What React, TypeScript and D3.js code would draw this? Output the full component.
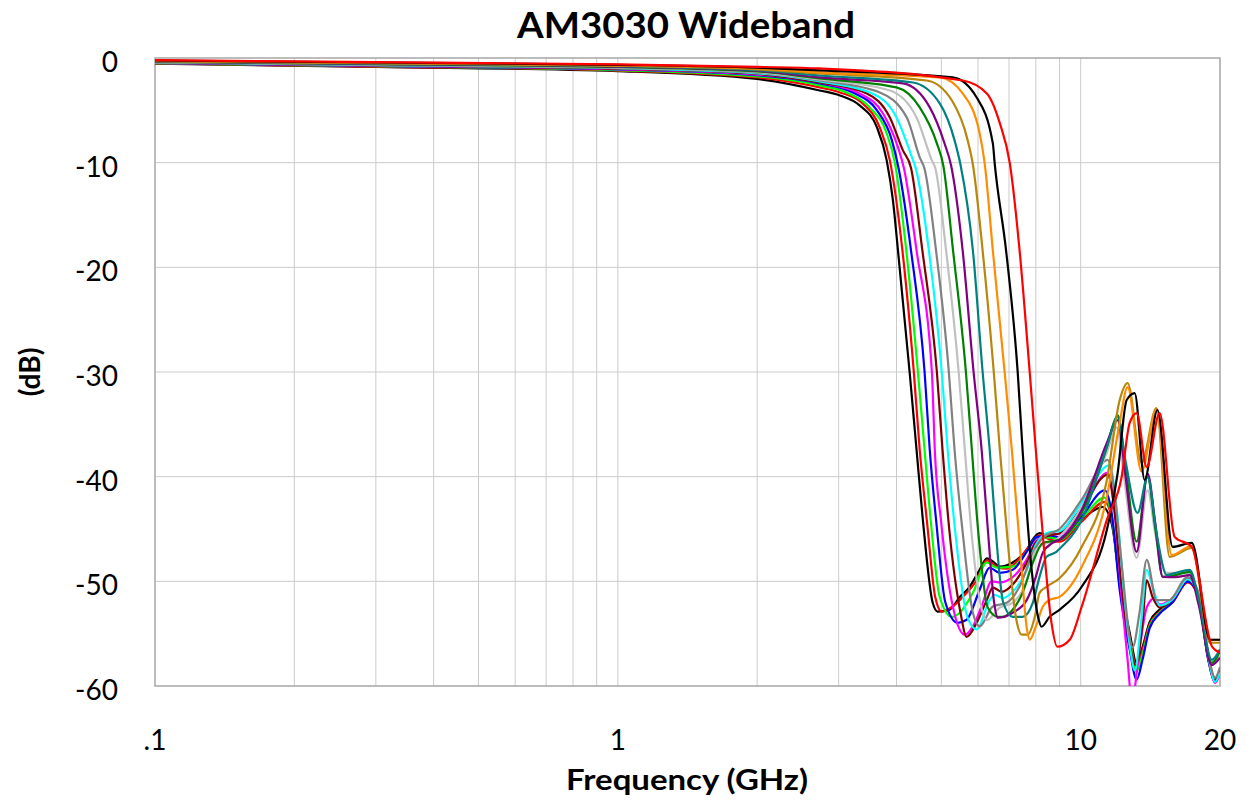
import * as d3 from 'd3'

// each trace: [frequency GHz, response dB]
const trace01: [number, number][] = [
  [0.1, -0.55], [0.3, -0.85], [1, -1.25], [2, -2.0], [2.73, -3.1], [3.02, -3.58], [3.33, -4.53], [3.63, -6.63],
  [3.81, -9.78], [3.93, -13.6], [4.03, -18.4], [4.27, -30], [4.42, -37.45], [4.56, -44.1], [4.79, -52.05],
  [4.91, -52.9], [5.21, -52.7], [5.48, -51.5], [5.76, -50.5], [6.05, -48.9], [6.27, -47.8], [6.46, -48.1],
  [6.69, -48.6], [7.13, -48.2], [7.65, -47.0], [7.88, -46.0], [8.15, -45.4], [8.57, -45.8], [9.0, -46.0],
  [10.05, -44.1], [11.16, -42.9], [11.67, -44.5], [12.14, -49.9], [12.76, -54.9], [13.21, -57.8], [13.6, -56.3],
  [14.09, -53.9], [14.81, -52.7], [15.8, -51.8], [17.03, -49.9], [17.91, -51.1], [18.85, -57.2], [19.52, -59.4],
  [20, -58.4],
]
const trace02: [number, number][] = [
  [0.1, -0.52], [0.3, -0.82], [1, -1.2], [2, -1.85], [2.73, -2.81], [3.02, -3.29], [3.38, -4.34], [3.68, -6.63],
  [3.87, -9.78], [4.12, -18.4], [4.36, -30], [4.49, -37.45], [4.66, -44.5], [4.85, -51.5], [5.01, -52.9],
  [5.29, -52.4], [5.56, -51.5], [5.96, -49.9], [6.27, -48.0], [6.59, -48.6], [6.92, -48.8], [7.38, -47.8],
  [7.88, -46.2], [8.15, -45.6], [8.57, -46.0], [9.0, -46.2], [10.05, -44.3], [11.27, -42.4], [11.67, -44.0],
  [12.14, -50.2], [12.76, -55.3], [13.21, -58.2], [13.6, -56.6], [14.09, -54.1], [14.81, -52.9], [15.8, -52.0],
  [17.03, -50.1], [17.91, -51.3], [18.85, -57.4], [19.52, -59.6], [20, -58.6],
]
const trace03: [number, number][] = [
  [0.1, -0.5], [0.3, -0.79], [1, -1.15], [2, -1.75], [2.73, -2.62], [3.12, -3.29], [3.5, -4.72], [3.81, -7.2],
  [3.97, -10.07], [4.2, -18.4], [4.45, -30], [4.6, -37.45], [4.75, -44.5], [4.96, -51.5], [5.27, -53.4],
  [5.48, -53.0], [5.85, -51.1], [6.27, -48.2], [6.59, -48.7], [7.13, -48.6], [7.76, -46.7], [8.0, -45.8],
  [8.57, -45.8], [9.0, -46.0], [10.05, -44.0], [11.27, -42.0], [11.67, -43.8], [12.14, -50.4], [12.76, -55.6],
  [13.21, -58.6], [13.6, -57.0], [14.09, -54.3], [14.81, -53.0], [15.8, -51.9], [17.03, -49.9], [17.91, -51.2],
  [18.85, -57.3], [19.52, -59.5], [20, -58.5],
]
const trace04: [number, number][] = [
  [0.1, -0.48], [0.3, -0.76], [1, -1.1], [2, -1.65], [2.73, -2.43], [3.22, -3.29], [3.63, -5.01], [3.91, -7.87],
  [4.05, -10.73], [4.3, -18.4], [4.6, -30], [4.72, -37.45], [4.88, -44.5], [5.1, -52.0], [5.42, -53.96],
  [5.67, -53.67], [6.05, -50.8], [6.36, -48.7], [6.69, -49.2], [7.13, -48.9], [7.76, -46.7], [8.0, -45.8],
  [8.57, -45.6], [9.0, -45.8], [10.05, -43.8], [11.27, -41.3], [11.67, -43.5], [12.14, -50.8], [12.76, -56.5],
  [13.21, -59.4], [13.6, -57.5], [14.09, -54.5], [14.81, -53.1], [15.8, -52.0], [17.03, -50.0], [17.91, -51.3],
  [18.85, -57.4], [19.52, -59.6], [20, -58.4],
]
const trace05: [number, number][] = [
  [0.1, -0.46], [0.3, -0.73], [1, -1.06], [2, -1.58], [2.73, -2.34], [3.33, -3.39], [3.74, -5.3], [4.03, -8.54],
  [4.15, -10.5], [4.42, -18.4], [4.77, -30], [4.84, -37.45], [5.0, -44.5], [5.3, -52.5], [5.62, -55.1],
  [5.85, -54.3], [6.14, -52.1], [6.42, -50.0], [6.69, -50.1], [7.13, -49.6], [7.65, -47.9], [8.0, -46.2],
  [8.57, -45.5], [9.0, -45.5], [10.05, -43.3], [11.44, -39.6], [11.85, -43.5], [12.26, -51.5], [12.63, -57.5],
  [12.9, -61.5], [13.4, -56.5], [13.89, -52.5], [14.44, -51.6], [14.81, -52.2], [15.8, -51.6], [17.03, -49.7],
  [17.91, -51.0], [18.85, -57.0], [19.52, -59.7], [20, -58.8],
]
const trace06: [number, number][] = [
  [0.1, -0.45], [0.3, -0.71], [1, -1.02], [2, -1.52], [2.73, -2.34], [3.45, -3.39], [3.87, -5.68], [4.13, -8.83],
  [4.3, -10.5], [4.55, -18.4], [4.89, -30], [5.03, -37.45], [5.2, -45.0], [5.5, -53.0], [5.67, -55.3],
  [5.96, -53.96], [6.27, -51.77], [6.46, -50.6], [6.75, -51.0], [7.13, -50.3], [7.65, -48.2], [8.0, -46.3],
  [8.57, -45.6], [9.0, -45.4], [10.05, -43.0], [11.44, -39.8], [11.85, -43.5], [12.26, -50.5], [12.76, -56.0],
  [13.15, -58.0], [13.6, -54.0], [13.89, -49.9], [14.3, -51.5], [14.81, -52.5], [15.8, -51.7], [17.03, -49.8],
  [17.91, -51.1], [18.85, -57.1], [19.52, -59.5], [20, -58.5],
]
const trace07: [number, number][] = [
  [0.1, -0.43], [0.3, -0.68], [1, -0.98], [2, -1.46], [2.73, -2.24], [3.55, -3.39], [4.0, -5.68], [4.32, -9.49],
  [4.4, -10.5], [4.7, -18.4], [5.01, -30], [5.16, -37.45], [5.35, -45.0], [5.7, -53.5], [5.96, -54.6],
  [6.36, -51.8], [6.52, -51.3], [6.79, -51.6], [7.13, -51.0], [7.65, -48.9], [8.0, -46.5], [8.57, -45.3],
  [9.0, -45.2], [10.05, -42.5], [11.55, -38.9], [11.96, -43.0], [12.4, -51.0], [12.8, -56.5], [13.1, -58.5],
  [13.5, -54.0], [13.89, -48.9], [14.3, -50.5], [14.81, -52.3], [15.8, -51.7], [17.03, -49.8], [17.91, -51.1],
  [18.85, -57.1], [19.52, -59.6], [20, -58.7],
]
const trace08: [number, number][] = [
  [0.1, -0.41], [0.3, -0.65], [1, -0.94], [2, -1.4], [2.73, -2.15], [3.68, -3.29], [4.21, -5.68], [4.49, -9.49],
  [4.6, -10.6], [4.87, -18.4], [5.19, -30], [5.34, -37.45], [5.55, -45.0], [5.85, -53.0], [6.05, -54.3],
  [6.46, -52.4], [6.92, -52.05], [7.38, -50.5], [7.88, -47.3], [8.3, -45.8], [9.0, -45.0], [10.05, -42.2],
  [11.44, -38.4], [11.9, -42.5], [12.26, -48.3], [12.95, -56.3], [13.4, -53.0], [13.89, -47.95], [14.58, -51.8],
  [15.5, -51.8], [17.03, -49.6], [17.91, -50.9], [18.85, -56.9], [19.52, -59.2], [20, -58.2],
]
const trace09: [number, number][] = [
  [0.1, -0.39], [0.3, -0.62], [1, -0.9], [2, -1.34], [2.73, -2.05], [3.87, -3.1], [4.42, -5.68], [4.77, -9.78],
  [4.85, -10.5], [5.12, -18.4], [5.45, -30], [5.62, -37.45], [5.8, -45.0], [6.1, -52.5], [6.27, -53.7],
  [6.69, -52.5], [7.13, -52.05], [7.65, -49.9], [8.0, -47.0], [9.0, -45.75], [10.05, -42.9], [11.39, -37.7],
  [11.96, -35.3], [12.4, -40.0], [13.21, -47.76], [13.95, -41.3], [14.5, -45.5], [15.34, -49.19], [17.2, -49.2],
  [18.0, -52.0], [19.2, -57.8], [20, -57.0],
]
const trace10: [number, number][] = [
  [0.1, -0.37], [0.3, -0.59], [1, -0.86], [2, -1.28], [2.73, -1.96], [4.0, -2.81], [4.49, -4.72], [4.89, -8.16],
  [5.05, -10.3], [5.3, -18.4], [5.65, -30], [5.82, -37.45], [6.0, -45.0], [6.3, -52.5], [6.62, -53.39],
  [6.79, -53.39], [7.13, -52.72], [7.49, -51.1], [7.88, -48.23], [8.28, -46.33], [9.0, -46.04], [10.05, -43.46],
  [11.39, -37.17], [11.85, -34.6], [12.02, -34.11], [12.5, -39.0], [13.21, -46.2], [13.95, -40.03], [14.5, -45.0],
  [15.04, -49.57], [16.0, -49.4], [17.2, -49.1], [18.0, -52.0], [19.2, -57.8], [20, -56.6],
]
const trace11: [number, number][] = [
  [0.1, -0.35], [0.3, -0.56], [1, -0.82], [2, -1.22], [2.73, -1.86], [4.13, -2.43], [4.72, -4.72], [5.08, -8.16],
  [5.25, -10.3], [5.56, -18.4], [5.87, -30], [6.11, -37.45], [6.3, -45.0], [6.5, -52.0], [6.62, -53.48],
  [7.13, -53.0], [7.65, -51.77], [8.0, -49.57], [8.28, -47.28], [8.69, -46.33], [9.0, -46.04], [10.05, -43.18],
  [11.39, -36.78], [12.02, -34.59], [12.5, -40.0], [13.21, -47.19], [13.95, -39.7], [14.5, -44.5], [15.04, -49.57],
  [16.0, -49.6], [17.2, -49.4], [18.0, -52.3], [19.2, -58.0], [20, -57.3],
]
const trace12: [number, number][] = [
  [0.1, -0.33], [0.3, -0.53], [1, -0.78], [2, -1.15], [2.73, -1.67], [4.34, -2.34], [4.96, -4.34], [5.34, -7.87],
  [5.5, -10.2], [5.85, -18.4], [6.14, -30], [6.36, -37.45], [6.55, -45.0], [6.8, -52.0], [7.13, -53.39],
  [7.49, -53.39], [7.88, -52.05], [8.15, -49.57], [8.44, -47.66], [8.86, -47.19], [9.0, -46.9], [10.05, -44.13],
  [11.39, -37.17], [12.02, -34.3], [12.5, -38.5], [13.27, -43.46], [13.95, -40.03], [14.6, -45.5], [15.34, -49.4],
  [16.0, -49.2], [17.2, -48.9], [18.0, -51.7], [19.2, -57.5], [20, -56.5],
]
const trace13: [number, number][] = [
  [0.1, -0.3], [0.3, -0.5], [1, -0.74], [2, -1.08], [2.73, -1.48], [4.65, -2.15], [5.27, -4.06], [5.7, -7.87],
  [5.85, -10.2], [6.14, -18.4], [6.49, -30], [6.69, -37.45], [6.95, -46.0], [7.25, -53.5], [7.46, -55.1],
  [7.68, -55.1], [7.96, -53.39], [8.15, -51.1], [8.44, -50.52], [9.0, -49.7], [10.05, -46.71], [11.39, -40.32],
  [12.14, -32.7], [12.63, -31.06], [13.54, -38.7], [14.58, -33.44], [15.57, -47.66], [17.38, -46.8], [19.04, -55.87],
  [20, -55.87],
]
const trace14: [number, number][] = [
  [0.1, -0.27], [0.3, -0.47], [1, -0.7], [2, -1.0], [2.73, -1.38], [4.96, -1.86], [5.56, -3.39], [6.05, -7.2],
  [6.2, -10.0], [6.46, -18.4], [6.85, -30], [7.1, -37.45], [7.4, -47.0], [7.65, -54.5], [7.76, -55.58],
  [8.0, -54.34], [8.28, -52.43], [8.57, -51.77], [9.0, -51.48], [10.05, -48.62], [11.39, -41.94], [12.14, -34.87],
  [12.63, -31.44], [13.54, -39.5], [14.58, -33.6], [15.73, -47.5], [17.38, -46.6], [19.04, -55.6], [20, -55.6],
]
const trace15: [number, number][] = [
  [0.1, -0.24], [0.3, -0.43], [1, -0.65], [2, -0.93], [2.73, -1.19], [5.29, -1.86], [5.96, -3.77], [6.46, -8.16],
  [6.52, -10.07], [6.9, -18.4], [7.31, -30], [7.49, -37.45], [7.8, -48.0], [8.1, -53.5], [8.23, -54.34],
  [8.57, -53.39], [9.0, -52.72], [10.05, -50.52], [11.39, -45.09], [12.02, -39.65], [12.57, -32.68], [13.08, -32.01],
  [13.75, -40.32], [14.65, -33.63], [15.8, -46.71], [17.38, -46.33], [19.04, -55.58], [20, -55.58],
]
const trace16: [number, number][] = [
  [0.1, -0.2], [0.3, -0.4], [1, -0.6], [2, -0.85], [2.73, -1.0], [5.56, -2.15], [6.27, -3.39], [6.69, -6.25],
  [7.03, -10.07], [7.38, -18.4], [7.76, -30], [8.0, -37.45], [8.3, -46.0], [8.65, -54.0], [8.9, -56.25],
  [9.47, -55.58], [10.05, -52.43], [11.39, -44.13], [12.26, -40.03], [12.76, -34.87], [13.21, -33.92],
  [13.89, -39.07], [14.81, -33.92], [15.96, -45.75], [17.38, -46.71], [19.23, -56.25], [20, -56.82],
]

const traces = [
  trace01, trace02, trace03, trace04, trace05, trace06, trace07, trace08,
  trace09, trace10, trace11, trace12, trace13, trace14, trace15, trace16,
]
const traceColors = [
  '#000000', '#ff0000', '#00ff00', '#0000ff', '#ff00ff', '#800000', '#00ffff', '#808080',
  '#c0c0c0', '#008000', '#800080', '#008080', '#b8860b', '#ff8c00', '#000000', '#ff0000',
]

const yTicks = [0, -10, -20, -30, -40, -50, -60]
const xTickValues = [0.1, 1, 10, 20]
const xTickLabels = ['.1', '1', '10', '20']
const xGrid = [0.2, 0.3, 0.4, 0.5, 0.6, 0.7, 0.8, 0.9, 1, 2, 3, 4, 5, 6, 7, 8, 9, 10]

const W = 1249
const H = 800
const left = 155
const right = 1220
const top = 58
const bottom = 686
const font = 'Lato, "DejaVu Sans", sans-serif'

const App = () => {
  const x = d3.scaleLog().domain([0.1, 20]).range([left, right])
  const y = d3.scaleLinear().domain([-60, 0]).range([bottom, top])
  const line = d3
    .line<[number, number]>()
    .x(d => x(d[0]))
    .y(d => y(d[1]))
    .curve(d3.curveMonotoneX)

  return (
    <svg
      width={W}
      height={H}
      style={{ position: 'absolute', left: 0, top: 0, background: '#fff' }}
    >
      <defs>
        <clipPath id='plot'>
          <rect x={left} y={top - 2} width={right - left} height={bottom - top + 2} />
        </clipPath>
      </defs>
      {/* grid */}
      {yTicks.slice(1, -1).map(t => (
        <line key={t} x1={left} x2={right} y1={y(t)} y2={y(t)} stroke='#cccccc' strokeWidth={1} />
      ))}
      {xGrid.map(g => (
        <line key={g} x1={x(g)} x2={x(g)} y1={top} y2={bottom} stroke='#cccccc' strokeWidth={1} />
      ))}
      <rect x={left} y={top} width={right - left} height={bottom - top} fill='none' stroke='#a6a6a6' strokeWidth={1.5} />

      <g clipPath='url(#plot)'>
        {traces.map((t, i) => (
          <path key={i} d={line(t) ?? ''} fill='none' stroke={traceColors[i]} strokeWidth={2.2} />
        ))}
      </g>

      {/* axes labels */}
      {yTicks.map(t => (
        <text key={t} x={118} y={y(t) + 14} textAnchor='end' fontFamily={font} fontSize={28} fill='#000'>
          {t}
        </text>
      ))}
      {xTickValues.map((v, i) => (
        <text key={v} x={x(v)} y={750} textAnchor='middle' fontFamily={font} fontSize={28} fill='#000'>
          {xTickLabels[i]}
        </text>
      ))}
      <text
        x={686}
        y={38}
        textAnchor='middle'
        fontFamily={font}
        fontWeight='bold'
        fontSize={36}
        textLength={338}
        lengthAdjust='spacingAndGlyphs'
        fill='#000'
      >
        AM3030 Wideband
      </text>
      <text
        x={687}
        y={790}
        textAnchor='middle'
        fontFamily={font}
        fontWeight='bold'
        fontSize={29}
        textLength={242}
        lengthAdjust='spacingAndGlyphs'
        fill='#000'
      >
        Frequency (GHz)
      </text>
      <text
        transform='translate(40,372) rotate(-90)'
        textAnchor='middle'
        fontFamily={font}
        fontWeight='bold'
        fontSize={28}
        fill='#000'
      >
        (dB)
      </text>
    </svg>
  )
}

export default App
